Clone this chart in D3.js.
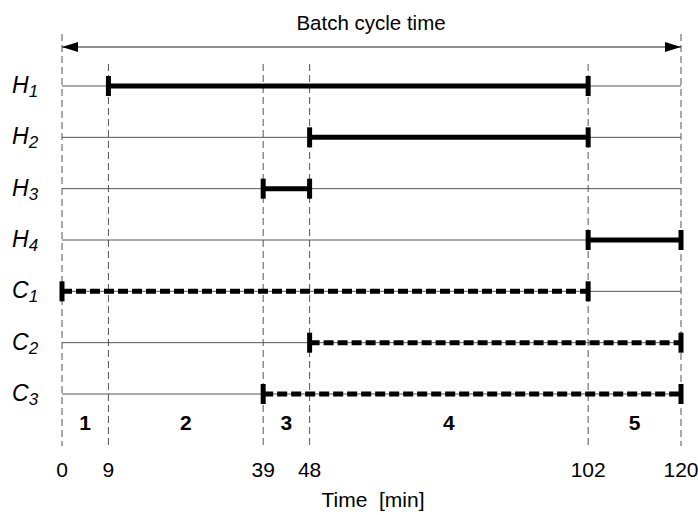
<!DOCTYPE html>
<html><head><meta charset="utf-8">
<script src="https://cdn.jsdelivr.net/npm/d3@7"></script>
<style>body{margin:0;background:#fff}svg{display:block}text{font-family:"Liberation Sans",Arial,sans-serif}</style>
</head><body><svg id="c" width="698" height="515"></svg>
<script>
const streams = ["H", "H", "H", "H", "C", "C", "C"];
const streamIdx = ["1", "2", "3", "4", "1", "2", "3"];
const starts = [9, 48, 39, 102, 0, 48, 39];
const ends = [102, 102, 48, 120, 102, 120, 120];
const boundaries = [0, 9, 39, 48, 102, 120];
const periods = ["1", "2", "3", "4", "5"];
const title = "Batch cycle time";
const xTitle = "Time  [min]";

const svg = d3.select("#c");
const x = d3.scaleLinear().domain([0, 120]).range([62, 681]);
const y = d3.scalePoint().domain(d3.range(streams.length)).range([86, 394]);

// dashed verticals
svg.append("g").selectAll("line").data(boundaries).join("line")
  .attr("x1", d => x(d)).attr("x2", d => x(d))
  .attr("y1", d => (d === 0 || d === 120) ? 34 : 64).attr("y2", 446)
  .attr("stroke", "#555").attr("stroke-width", 1).attr("stroke-dasharray", "7,4");

// thin row lines
svg.append("g").selectAll("line").data(streams).join("line")
  .attr("x1", x(0)).attr("x2", x(120))
  .attr("y1", (d, i) => y(i)).attr("y2", (d, i) => y(i))
  .attr("stroke", "#555").attr("stroke-width", 1);

// arrow
const defs = svg.append("defs");
defs.append("marker").attr("id", "ah").attr("viewBox", "0 0 16 10").attr("refX", 16).attr("refY", 5)
  .attr("markerWidth", 16).attr("markerHeight", 10).attr("markerUnits", "userSpaceOnUse").attr("orient", "auto-start-reverse")
  .append("path").attr("d", "M0,0L16,5L0,10Z").attr("fill", "#000");
svg.append("line").attr("x1", x(0)).attr("x2", x(120)).attr("y1", 47).attr("y2", 47)
  .attr("stroke", "#222").attr("stroke-width", 1)
  .attr("marker-start", "url(#ah)").attr("marker-end", "url(#ah)");
svg.append("text").attr("x", 371).attr("y", 30).attr("text-anchor", "middle")
  .attr("font-size", 20.5).text(title);

// segments
const seg = svg.append("g").selectAll("g").data(streams.map((s, i) => ({s, i, a: starts[i], b: ends[i]}))).join("g");
seg.append("line")
  .attr("x1", d => x(d.a)).attr("x2", d => x(d.b))
  .attr("y1", d => y(d.i)).attr("y2", d => y(d.i))
  .attr("stroke", "#000").attr("stroke-width", 5)
  .attr("stroke-dasharray", d => d.s === "C" ? "10,4" : null);
seg.selectAll("rect").data(d => [ {v: d.a, i: d.i}, {v: d.b, i: d.i} ]).join("rect")
  .attr("x", d => x(d.v) - 2.5).attr("y", d => y(d.i) - 10).attr("width", 5).attr("height", 20).attr("fill", "#000");

// row labels
const lab = svg.append("g").selectAll("text").data(streams).join("text")
  .attr("x", 12).attr("y", (d, i) => y(i) + 7).attr("font-size", 23).attr("font-style", "italic");
lab.append("tspan").text(d => d);
lab.append("tspan").attr("font-size", 17).attr("dy", 4).text((d, i) => streamIdx[i]);

// period labels
svg.append("g").selectAll("text").data(periods).join("text")
  .attr("x", (d, i) => x((boundaries[i] + boundaries[i + 1]) / 2)).attr("y", 430)
  .attr("text-anchor", "middle").attr("font-size", 21).attr("font-weight", "bold").text(d => d);

// tick labels
svg.append("g").selectAll("text").data(boundaries).join("text")
  .attr("x", d => x(d)).attr("y", 477).attr("text-anchor", "middle").attr("font-size", 21).text(d => d);

svg.append("text").attr("x", 373).attr("y", 507).attr("text-anchor", "middle").attr("font-size", 21).style("white-space", "pre").text(xTitle);
</script></body></html>
